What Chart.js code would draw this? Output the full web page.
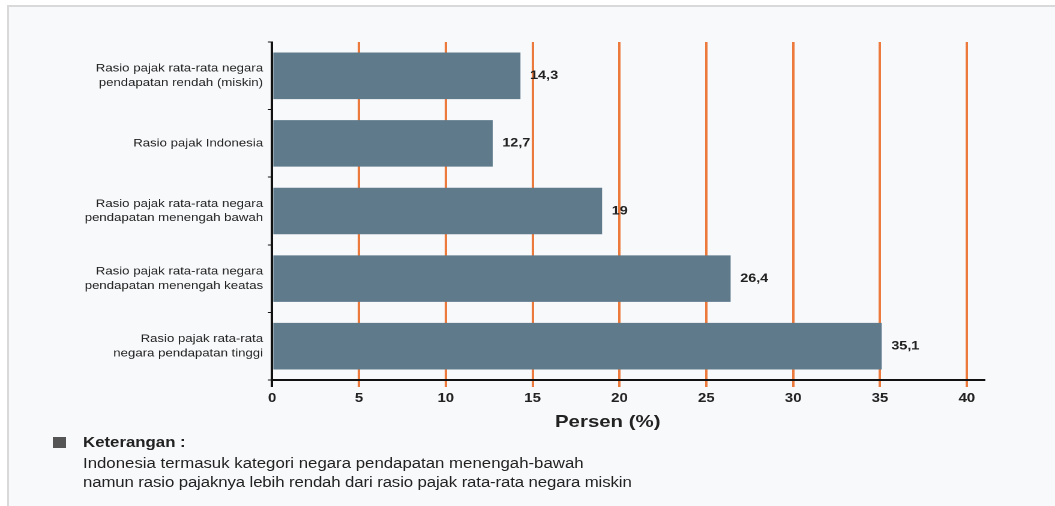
<!DOCTYPE html>
<html>
<head>
<meta charset="utf-8">
<script src="https://cdn.jsdelivr.net/npm/chart.js@4"></script>
<style>
  html, body { margin: 0; padding: 0; background: #fff; }
  #frame {
    position: absolute; left: 7px; top: 5px; width: 1048px; height: 501px;
    background: #f8f9fb; border-top: 2px solid #d9d9d9; border-left: 2px solid #d9d9d9;
    box-sizing: border-box;
  }
  #myChart { position: absolute; left: 0; top: 0; }
  .note {
    position: absolute; font-family: "Liberation Sans", Arial, sans-serif; color: #222;
    white-space: nowrap; transform: scaleX(1.2); transform-origin: 0 0;
  }
  #sq { position: absolute; left: 53px; top: 437px; width: 13px; height: 11px; background: #555; }
</style>
</head>
<body>
<div id="frame"></div>
<canvas id="myChart" width="879" height="506" style="width:1055px;height:506px"></canvas>
<div class="note" style="left:555px; top:412px; font-size:17px; font-weight:bold;">Persen (%)</div>
<div id="sq"></div>
<div class="note" style="left:83px; top:434px; font-size:14px; font-weight:bold;">Keterangan :</div>
<div class="note" style="left:83px; top:455px; font-size:14px;">Indonesia termasuk kategori negara pendapatan menengah-bawah</div>
<div class="note" style="left:83px; top:474px; font-size:14px; letter-spacing:-0.1px;">namun rasio pajaknya lebih rendah dari rasio pajak rata-rata negara miskin</div>
<script>
const kategori = [
  ["Rasio pajak rata-rata negara", "pendapatan rendah (miskin)"],
  ["Rasio pajak Indonesia"],
  ["Rasio pajak rata-rata negara", "pendapatan menengah bawah"],
  ["Rasio pajak rata-rata negara", "pendapatan menengah keatas"],
  ["Rasio pajak rata-rata", "negara pendapatan tinggi"],
];
const nilai = [14.3, 12.7, 19, 26.4, 35.1];
const sumbuX = [0, 5, 10, 15, 20, 25, 30, 35, 40];

// the reference picture is stretched sideways, so the canvas is drawn narrow and widened by css
const labelNilai = {
  id: "labelNilai",
  afterDatasetsDraw(chart) {
    const c = chart.ctx;
    const meta = chart.getDatasetMeta(0);
    c.save();
    c.font = "bold 12px 'Liberation Sans', Arial, sans-serif";
    c.fillStyle = "#222";
    c.textBaseline = "middle";
    c.textAlign = "left";
    meta.data.forEach((bar, i) => {
      c.fillText(String(nilai[i]).replace(".", ","), bar.x + 8, bar.y);
    });
    c.restore();
  },
};

const ctx = document.getElementById("myChart").getContext("2d");
new Chart(ctx, {
  type: "bar",
  data: {
    labels: kategori,
    datasets: [
      {
        data: nilai,
        backgroundColor: "#5f7a8b",
        barPercentage: 0.82,
        categoryPercentage: 0.84,
      },
    ],
  },
  options: {
    indexAxis: "y",
    responsive: false,
    animation: false,
    devicePixelRatio: 2,
    layout: { padding: { top: 42, right: 59, left: 0, bottom: 70 } },
    plugins: { legend: { display: false }, tooltip: { enabled: false } },
    scales: {
      x: {
        min: 0,
        max: 41,
        afterBuildTicks: (scale) => {
          scale.ticks = sumbuX.map((v) => ({ value: v }));
        },
        ticks: {
          padding: 4,
          color: "#222",
          font: { family: "'Liberation Sans', Arial, sans-serif", size: 12.5, weight: "bold" },
        },
        grid: {
          color: (c) => (c.tick && c.tick.value === 0 ? "#111" : "#ec7a3c"),
          lineWidth: 2,
          tickLength: 7,
        },
        border: { color: "#111", width: 2 },
        afterFit: (scale) => {
          scale.height = 56;
        },
      },
      y: {
        ticks: {
          padding: 4,
          color: "#222",
          font: { family: "'Liberation Sans', Arial, sans-serif", size: 11, lineHeight: 1.3 },
        },
        grid: {
          drawOnChartArea: false,
          color: "#111",
          tickLength: 3.5,
          offset: true,
        },
        border: { color: "#111", width: 1.5 },
        afterFit: (scale) => {
          scale.width = 226.7;
        },
      },
    },
  },
  plugins: [labelNilai],
});
</script>
</body>
</html>
